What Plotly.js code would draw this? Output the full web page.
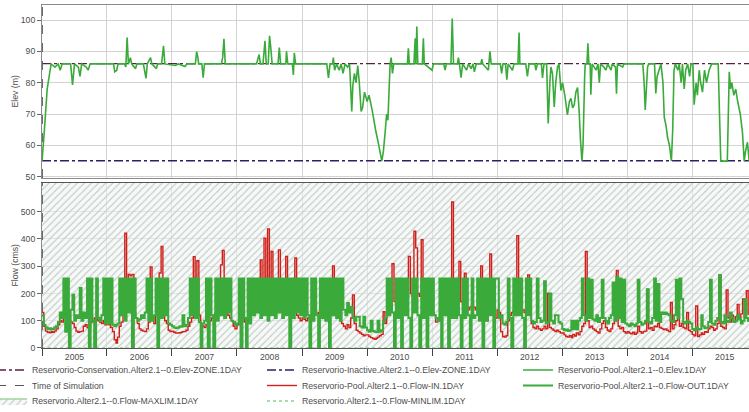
<!DOCTYPE html>
<html><head><meta charset="utf-8">
<script src="https://cdn.plot.ly/plotly-3.0.1.min.js"></script>
<style>html,body{margin:0;padding:0;background:#fff}#chart{width:749px;height:412px}</style>
</head><body><div id="chart"></div>
<script>
// ---- data ----
const startDate = '2005-01-01';
const endDate = '2015-11-16';
const simTime = '2005-01-03';
const conservationElev = 86.1;
const inactiveElev = 55.1;
const maxLimFlow = 1000;
const minLimFlow = 0;
const elevTicks = [50, 60, 70, 80, 90, 100];
const flowTicks = [0, 100, 200, 300, 400, 500];

// pool elevation: decimal year / value
const elevT = [2005.000,2005.030,2005.080,2005.140,2005.200,2005.250,2005.280,2005.310,2005.440,2005.470,2005.500,2005.560,2005.585,2005.610,2005.680,2005.710,2005.740,
2006.100,2006.120,2006.150,2006.170,2006.270,2006.290,2006.310,2006.330,2006.360,2006.380,2006.440,2006.460,2006.560,2006.600,2006.620,2006.670,2006.690,2006.760,2006.780,2006.840,2006.870,2006.890,
2007.050,2007.100,2007.200,2007.230,2007.360,2007.380,2007.400,2007.410,2007.460,2007.480,2007.500,2007.760,2007.780,2007.800,2007.820,
2008.300,2008.340,2008.360,2008.400,2008.430,2008.450,2008.480,2008.500,2008.520,2008.540,2008.630,2008.650,2008.670,2008.750,2008.760,2008.780,2008.850,2008.866,2008.880,2008.900,
2009.380,2009.405,2009.430,2009.470,2009.480,2009.500,2009.530,2009.570,2009.600,2009.630,2009.660,2009.700,2009.730,2009.764,2009.780,2009.805,2009.830,2009.856,2009.880,2009.908,2009.930,2009.960,
2010.000,2010.030,2010.080,2010.130,2010.180,2010.226,2010.250,2010.277,2010.300,2010.320,2010.354,2010.370,2010.390,2010.410,2010.620,2010.635,2010.650,2010.720,2010.740,2010.750,2010.765,2010.780,2010.850,2010.866,2010.880,
2011.000,2011.020,2011.180,2011.200,2011.220,2011.290,2011.310,2011.330,2011.390,2011.405,2011.420,2011.446,2011.470,2011.530,2011.560,2011.600,2011.630,2011.650,2011.680,2011.750,2011.765,2011.780,2011.866,2011.890,2011.910,
2012.050,2012.070,2012.090,2012.130,2012.150,2012.170,2012.236,2012.260,2012.320,2012.338,2012.350,2012.440,2012.466,2012.490,2012.580,2012.595,2012.620,2012.680,2012.697,2012.720,2012.760,2012.785,2012.810,2012.826,2012.850,2012.877,2012.900,2012.928,2012.950,2012.980,
2013.005,2013.040,2013.080,2013.110,2013.134,2013.160,2013.185,2013.210,2013.236,2013.260,2013.280,2013.303,2013.320,2013.345,2013.354,2013.380,2013.395,2013.410,2013.430,2013.440,2013.460,2013.520,2013.550,2013.570,2013.590,2013.640,2013.670,2013.700,2013.750,2013.770,2013.820,2013.835,2013.850,2013.930,2013.950,
2014.240,2014.260,2014.277,2014.300,2014.313,2014.330,2014.420,2014.440,2014.460,2014.490,2014.520,2014.550,2014.570,2014.600,2014.620,2014.650,2014.680,2014.700,2014.720,2014.740,2014.780,2014.800,2014.830,2014.850,2014.877,2014.900,2014.930,2014.960,2014.980,
2015.010,2015.030,2015.060,2015.080,2015.108,2015.130,2015.158,2015.190,2015.220,2015.260,2015.300,2015.400,2015.420,2015.440,2015.540,2015.570,2015.590,2015.610,2015.640,2015.670,2015.700,2015.740,2015.774,2015.800,2015.820,2015.850,2015.877];
const elevV = [55,63,78,86,85,86,84,86,86,79.3,86,85,82,86,85,84,86,
86,83.5,84,86,86,85,94.4,86,88,86,84.5,86,86,81.4,86,88,86,84.5,86,86,91.8,86,
85.5,86,85.2,86,86,89.9,88,86,86,81.6,86,86,88,94,86,
86,89,86,86,93.4,86,86,95,91,86,86,91.2,86,86,90,86,86,82.5,89.5,86,
86,81.5,86,86,88,84,86,84,86,83,86,85,86,70.8,79,83,80,85.5,80,70.8,72,77,
74,76,71,65,60,55,58,64,70,68,86,88,83,86,86,91,86,86,94.2,86,97.9,86,86,94.2,86,
84,86,86,84,86,86,100.5,86,86,88,86,81.6,86,84,86,84.5,86,83.5,86,86,87.5,86,84,90,86,
86,83,86,86,81,86,84,86,86,96,86,86,82,86,86,84,86,86,81.5,86,86,67,80,85,83,72.3,80,85,86,77.5,
80,76,69.7,74,75,72,73,77,78.5,71,62,55,60,82,86,86,92.6,86,86,76.2,86,84,86,80,86,85,84,86,84,86,85,76.5,86,85,86,
86,80,71.3,80,85,86,86,76.6,82,84,86,80,69,66,62.6,60,55,65,84,86,84,86,80,86,78,84,86,82,86,
86,73,80,76,84,80,77,84,80,84,86,86,70,55,55,83.5,78,80,76,78,74,70,64,55,58,61,55];

// flows: three values per month (1st, 11th, 21st), cms
const flowYears = [2005,2006,2007,2008,2009,2010,2011,2012,2013,2014,2015];
const flowIn2005 = [130,80,62,58,56,60,58,62,70,85,100,95,120,110,115,100,95,90,75,62,58,60,62,80,85,75,72,95,100,110,105,100,95,90,100,85];
const flowIn2006 = [100,85,75,60,30,18,40,80,95,120,421,150,270,265,270,130,110,90,70,65,62,60,70,95,297,110,90,120,130,275,372,140,100,90,65,60];
const flowIn2007 = [62,58,55,55,56,58,60,60,65,80,95,110,335,150,320,120,90,80,75,85,90,100,110,120,130,140,150,305,358,150,130,120,110,100,80,70];
const flowIn2008 = [85,90,100,110,95,100,120,130,140,150,130,160,170,323,180,403,190,437,170,354,160,150,140,360,140,130,120,336,130,120,130,130,330,120,110,100];
const flowIn2009 = [110,105,100,110,120,115,130,120,125,130,120,115,110,130,125,120,130,301,140,120,110,100,90,80,70,85,75,110,195,90,65,60,55,50,45,48];
const flowIn2010 = [48,42,38,35,32,36,40,45,50,133,90,120,150,160,309,170,160,150,180,170,160,170,180,336,200,190,428,367,200,190,397,180,160,150,140,130];
const flowIn2011 = [130,120,95,100,110,120,130,140,150,160,170,536,180,170,160,317,170,160,274,150,140,150,160,150,140,130,140,301,150,140,100,120,345,130,120,110];
const flowIn2012 = [140,130,60,42,40,45,100,120,130,140,150,412,160,150,140,130,150,268,140,90,75,70,80,70,65,70,80,70,200,75,70,65,60,65,60,55];
const flowIn2013 = [55,48,42,40,45,38,50,44,55,48,60,80,90,354,100,75,80,70,65,60,55,70,90,100,75,65,60,70,90,100,284,80,70,75,60,55];
const flowIn2014 = [60,55,52,58,50,55,80,60,55,60,62,215,70,75,65,80,78,90,75,72,68,70,65,60,167,70,85,100,110,80,90,75,70,130,65,60];
const flowIn2015 = [50,45,154,42,48,55,50,60,58,70,80,75,65,70,90,268,80,75,70,213,110,95,120,100,115,160,105,125,180,110,210,120];

const flowOut2005 = [120,85,75,70,72,68,70,75,80,95,130,110,255,60,255,0,140,195,100,120,110,220,100,130,110,255,0,255,100,0,255,110,100,120,255,90];
const flowOut2006 = [255,90,255,85,80,85,90,255,120,255,100,255,130,255,0,255,110,100,105,120,110,130,255,100,255,100,120,255,0,255,110,255,120,255,90,85];
const flowOut2007 = [80,75,72,75,80,78,120,80,85,110,255,120,255,110,255,95,0,90,100,255,0,255,120,0,255,100,255,120,255,110,255,130,255,100,95,85];
const flowOut2008 = [90,255,0,255,110,0,255,90,255,120,255,130,255,110,255,120,255,100,255,120,255,110,255,130,255,110,255,120,255,0,255,110,255,130,255,120];
const flowOut2009 = [255,110,255,120,0,255,100,255,120,0,255,110,255,100,255,0,255,120,255,110,255,100,255,140,120,165,130,150,110,100,115,115,80,75,115,75];
const flowOut2010 = [65,60,100,62,60,58,100,60,65,100,110,255,120,255,130,0,255,110,255,0,255,120,255,110,0,255,130,255,120,0,255,110,255,0,255,120];
const flowOut2011 = [255,120,110,100,255,0,255,120,255,0,255,110,255,110,255,120,0,255,110,255,120,0,255,110,120,255,100,255,0,255,100,255,120,255,0,255];
const flowOut2012 = [255,110,120,90,85,95,255,110,0,255,120,255,120,255,110,0,255,120,255,100,90,95,255,110,95,100,245,90,95,200,100,90,120,120,95,90];
const flowOut2013 = [70,65,68,62,65,100,70,100,68,100,110,255,120,100,255,110,250,105,100,120,95,110,250,110,100,90,110,120,240,100,260,110,255,95,250,90];
const flowOut2014 = [85,80,90,85,80,90,250,95,85,90,100,215,95,90,110,255,100,235,95,130,125,130,125,120,100,95,120,250,110,255,180,95,90,100,95,90];
const flowOut2015 = [70,65,75,68,70,120,80,72,75,95,250,90,85,100,110,268,95,90,120,95,100,130,110,95,100,120,105,90,100,180,110,95];

const flowInByYear = [flowIn2005,flowIn2006,flowIn2007,flowIn2008,flowIn2009,flowIn2010,flowIn2011,flowIn2012,flowIn2013,flowIn2014,flowIn2015];
const flowOutByYear = [flowOut2005,flowOut2006,flowOut2007,flowOut2008,flowOut2009,flowOut2010,flowOut2011,flowOut2012,flowOut2013,flowOut2014,flowOut2015];

// ---- helpers ----
function pad(n){return (n<10?'0':'')+n;}
function decYearToDate(d){
  const y=Math.floor(d), f=d-y;
  const s=Date.UTC(y,0,1), e=Date.UTC(y+1,0,1);
  return new Date(s+f*(e-s)).toISOString().slice(0,19).replace('T',' ');
}
function dekadSeries(byYear){
  const x=[], y=[];
  byYear.forEach((vals,yi)=>{
    vals.forEach((v,i)=>{
      x.push(flowYears[yi]+'-'+pad(Math.floor(i/3)+1)+'-'+pad(1+10*(i%3)));
      y.push(v);
    });
  });
  return {x,y};
}
const elevX = elevT.map(decYearToDate);
const fin = dekadSeries(flowInByYear);
const fout = dekadSeries(flowOutByYear);

const FONT = 'Liberation Sans, Arial, sans-serif';
const TXT = '#4d4d4d';
const GREEN = '#3aab3a';
const RED = '#d11f1a';

const traces = [
  {x:[startDate,endDate], y:[maxLimFlow,maxLimFlow], xaxis:'x2', yaxis:'y2', type:'scatter', mode:'lines',
   name:'Reservorio.Alter2.1--0.Flow-MAXLIM.1DAY', fill:'tozeroy', fillcolor:'rgba(0,0,0,0)',
   fillpattern:{shape:'/', fgcolor:'#c3ccc7', bgcolor:'rgba(238,243,241,0.55)', size:5, solidity:0.22},
   line:{color:'#9fd49f', width:1.5}, legend:'legend7', hoverinfo:'skip'},
  {x:[startDate,endDate], y:[minLimFlow,minLimFlow], xaxis:'x2', yaxis:'y2', type:'scatter', mode:'lines',
   name:'Reservorio.Alter2.1--0.Flow-MINLIM.1DAY', line:{color:'#8fd08f', width:1.5, dash:'dot'}, legend:'legend8'},
  {x:[startDate,endDate], y:[conservationElev,conservationElev], type:'scatter', mode:'lines',
   name:'Reservorio-Conservation.Alter2.1--0.Elev-ZONE.1DAY', line:{color:'#5b1f45', width:1.4, dash:'dashdot'}, legend:'legend'},
  {x:[startDate,endDate], y:[inactiveElev,inactiveElev], type:'scatter', mode:'lines',
   name:'Reservorio-Inactive.Alter2.1--0.Elev-ZONE.1DAY', line:{color:'#2d1f66', width:1.4, dash:'dashdot'}, legend:'legend2'},
  {x:[simTime,simTime], y:[49.6,104.8], type:'scatter', mode:'lines', name:'Time of Simulation',
   line:{color:'#555', width:1, dash:'dash'}, legend:'legend4'},
  {x:[simTime,simTime], y:[0,605], xaxis:'x2', yaxis:'y2', type:'scatter', mode:'lines', name:'Time of Simulation',
   line:{color:'#555', width:1, dash:'dash'}, showlegend:false},
  {x:elevX, y:elevV, type:'scatter', mode:'lines', name:'Reservorio-Pool.Alter2.1--0.Elev.1DAY',
   line:{color:GREEN, width:1.6, simplify:false}, legend:'legend3'},
  {x:fin.x, y:fin.y, xaxis:'x2', yaxis:'y2', type:'scatter', mode:'lines', name:'Reservorio-Pool.Alter2.1--0.Flow-IN.1DAY',
   line:{color:RED, width:1.4, shape:'hv', simplify:false}, legend:'legend5'},
  {x:fout.x, y:fout.y, xaxis:'x2', yaxis:'y2', type:'scatter', mode:'lines', name:'Reservorio-Pool.Alter2.1--0.Flow-OUT.1DAY',
   line:{color:GREEN, width:2, shape:'hv', simplify:false}, legend:'legend6'}
];

function leg(x, y, ind){
  return {x:x, y:y, xref:'container', yref:'container', xanchor:'left', yanchor:'middle', indentation:ind,
    bgcolor:'rgba(0,0,0,0)', borderwidth:0, font:{family:FONT, size:8.7, color:TXT}, itemclick:false};
}
const row1 = 1-370/412, row2 = 1-385.5/412, row3 = 1-401/412;
const c1 = 0, c2 = 262/749, c3 = 518/749;

const axCommon = {showline:true, mirror:true, linecolor:'#8a8a8a', linewidth:1, gridcolor:'#d3d3d3', gridwidth:1, zeroline:false,
  tickfont:{family:FONT, size:8.7, color:TXT}};

const layout = {
  width:749, height:412,
  margin:{l:42, r:0, t:5, b:64, autoexpand:false},
  paper_bgcolor:'#fff', plot_bgcolor:'#fff',
  font:{family:FONT, size:8.7, color:TXT},
  xaxis:Object.assign({}, axCommon, {type:'date', range:[startDate,endDate], anchor:'y', dtick:'M12', tick0:startDate,
    showticklabels:false, ticks:''}),
  yaxis:Object.assign({}, axCommon, {domain:[0.4956,1], range:[49.6,104.8], tickvals:elevTicks, ticks:'outside', ticklen:4, tickcolor:'#666'}),
  xaxis2:Object.assign({}, axCommon, {type:'date', range:[startDate,endDate], anchor:'y2', dtick:'M12', tick0:startDate,
    ticklabelmode:'period', tickformat:'%Y', ticks:'outside', ticklen:7, tickcolor:'#444', linecolor:'#555', ticklabelstandoff:-6}),
  yaxis2:Object.assign({}, axCommon, {domain:[0,0.481], range:[0,605], tickvals:flowTicks, ticks:'outside', ticklen:4, tickcolor:'#666'}),
  annotations:[
    {text:'Elev (m)', xref:'paper', yref:'paper', x:-27/707, y:(0.4956+1)/2, textangle:-90, showarrow:false,
     xanchor:'center', yanchor:'middle', font:{family:FONT, size:8.7, color:TXT}},
    {text:'Flow (cms)', xref:'paper', yref:'paper', x:-27/707, y:0.481/2, textangle:-90, showarrow:false,
     xanchor:'center', yanchor:'middle', font:{family:FONT, size:8.7, color:TXT}}
  ],
  legend:leg(c1,row1,-8), legend2:leg(c2,row1,0), legend3:leg(c3,row1,0),
  legend4:leg(c1,row2,-8), legend5:leg(c2,row2,0), legend6:leg(c3,row2,0),
  legend7:leg(c1,row3,-8), legend8:leg(c2,row3,0),
  showlegend:true
};

Plotly.newPlot('chart', traces, layout, {staticPlot:true, displayModeBar:false});
</script>
</body></html>
